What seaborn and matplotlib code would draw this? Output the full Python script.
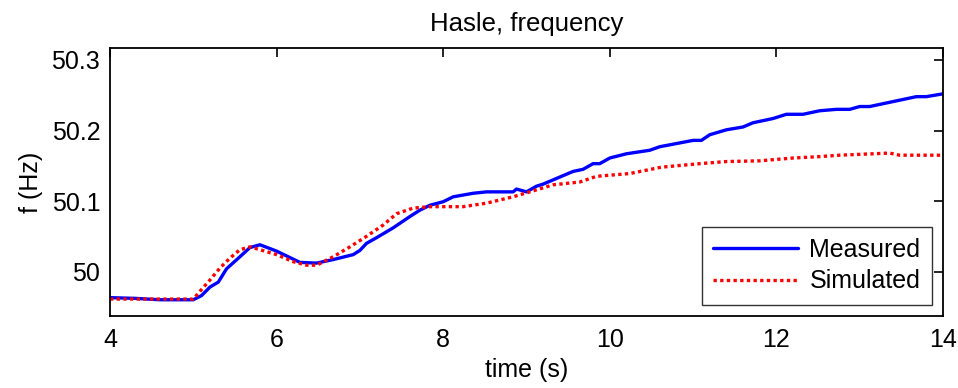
import numpy as np
import pandas as pd
import seaborn as sns
import matplotlib
matplotlib.use("Agg")
import matplotlib.pyplot as plt
from matplotlib.ticker import FuncFormatter

# ---- data ----
measured_t = [4.0, 4.3, 4.6, 5.0, 5.1, 5.2, 5.3, 5.4, 5.56, 5.68, 5.8, 6.0, 6.28, 6.48,
              6.68, 6.92, 7.0, 7.08, 7.2, 7.4, 7.6, 7.72, 7.84, 8.0, 8.12, 8.36, 8.52,
              8.84, 8.88, 9.0, 9.12, 9.2, 9.32, 9.56, 9.68, 9.8, 9.88, 10.0, 10.2, 10.48,
              10.6, 11.0, 11.1, 11.2, 11.4, 11.6, 11.72, 11.96, 12.12, 12.32, 12.52,
              12.72, 12.88, 13.0, 13.12, 13.4, 13.68, 13.8, 14.0]
measured_f = [49.963, 49.962, 49.960, 49.960, 49.966, 49.978, 49.985, 50.004, 50.021,
              50.034, 50.038, 50.029, 50.013, 50.012, 50.017, 50.024, 50.030, 50.040,
              50.048, 50.062, 50.078, 50.087, 50.094, 50.099, 50.106, 50.111, 50.113,
              50.113, 50.117, 50.113, 50.121, 50.124, 50.130, 50.142, 50.145, 50.153,
              50.153, 50.161, 50.167, 50.172, 50.177, 50.186, 50.186, 50.194, 50.201,
              50.205, 50.211, 50.217, 50.223, 50.223, 50.228, 50.230, 50.230, 50.234,
              50.234, 50.241, 50.248, 50.248, 50.252]

simulated_t = [4.0, 4.5, 5.0, 5.08, 5.2, 5.32, 5.44, 5.56, 5.68, 5.8, 6.0, 6.2, 6.36,
               6.48, 6.68, 6.88, 7.08, 7.28, 7.44, 7.64, 7.84, 8.24, 8.52, 8.84, 9.04,
               9.32, 9.64, 9.84, 10.24, 10.62, 11.08, 11.4, 11.8, 12.2, 12.52, 12.76,
               13.36, 13.48, 14.0]
simulated_f = [49.961, 49.961, 49.961, 49.972, 49.988, 50.005, 50.019, 50.031, 50.035,
               50.031, 50.024, 50.014, 50.009, 50.009, 50.021, 50.035, 50.050, 50.066,
               50.082, 50.090, 50.092, 50.092, 50.097, 50.106, 50.113, 50.123, 50.127,
               50.135, 50.139, 50.148, 50.153, 50.156, 50.157, 50.161, 50.163, 50.165,
               50.168, 50.165, 50.165]

series_names = ["Measured", "Simulated"]
x_ticks = [4, 6, 8, 10, 12, 14]
y_ticks = [50.0, 50.1, 50.2, 50.3]
title_text = "Hasle, frequency"
x_label = "time (s)"
y_label = "f (Hz)"

df = pd.concat([
    pd.DataFrame({"t": measured_t, "f": measured_f, "series": series_names[0]}),
    pd.DataFrame({"t": simulated_t, "f": simulated_f, "series": series_names[1]}),
], ignore_index=True)

sns.set_style("white")
plt.rcParams["font.family"] = ["Liberation Sans", "DejaVu Sans"]
plt.rcParams["text.color"] = "black"
plt.rcParams["axes.labelcolor"] = "black"

fig = plt.figure(figsize=(9.58, 3.88), dpi=100)
ax = fig.add_axes([0.1148, 0.1856, 0.8695, 0.6907])

sns.lineplot(data=df, x="t", y="f", hue="series", style="series",
             palette={"Measured": "#0000ff", "Simulated": "#ff0000"},
             dashes={"Measured": "", "Simulated": (1, 1)},
             linewidth=2.4, ax=ax, sort=False, estimator=None)

ax.set_xlim(4, 14)
ax.set_ylim(49.937, 50.317)
ax.set_xticks(x_ticks)
ax.set_yticks(y_ticks)
ax.yaxis.set_major_formatter(FuncFormatter(lambda v, p: f"{v:g}"))
ax.xaxis.set_major_formatter(FuncFormatter(lambda v, p: f"{v:g}"))

ax.tick_params(direction="in", length=6.5, width=1.2, top=True, right=True,
               labelsize=18, colors="black")
ax.tick_params(axis="y", pad=7)
ax.tick_params(axis="x", pad=9)
for s in ax.spines.values():
    s.set_visible(True)
    s.set_color("black")
    s.set_linewidth(1.3)

ax.set_title(title_text, fontsize=18.5, pad=12, color="black")
ax.set_xlabel(x_label, fontsize=18, labelpad=4)
ax.set_ylabel(y_label, fontsize=18, labelpad=6)

handles, labels = ax.get_legend_handles_labels()
leg = ax.legend(handles, labels, loc="lower right", fontsize=18, frameon=True,
                fancybox=False, edgecolor="black", handlelength=3.4,
                borderaxespad=0.45, borderpad=0.45, labelspacing=0.3, handletextpad=0.45)
leg.get_frame().set_linewidth(1.0)
for t in leg.get_texts():
    t.set_color("black")

fig.savefig("out.png", dpi=100, facecolor="white")
